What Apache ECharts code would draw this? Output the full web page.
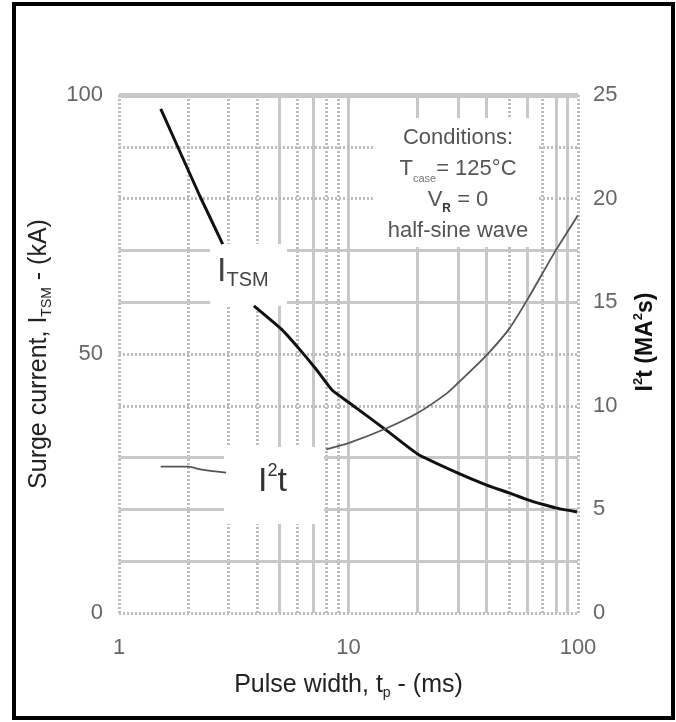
<!DOCTYPE html>
<html><head><meta charset="utf-8">
<script src="https://cdn.jsdelivr.net/npm/echarts/dist/echarts.min.js"></script>
<style>html,body{margin:0;padding:0;background:#fff}#c{width:676px;height:722px}</style>
</head><body><div id="c"></div>
<script>
// ---- data ----
const xTicks = [1, 10, 100];
const itsmSeg1 = [[1.52,97.3],[1.79,90.3],[2.25,80.5],[2.83,71.2]];
const itsmSeg2 = [[3.87,59.3],[5.1,54.8],[6.15,50.8],[7.27,46.9],[8.5,43.0],[10,40.7],[14.4,35.5],[20,30.7],[30,27.0],[40,24.7],[50,23.2],[60,21.9],[70,21.0],[80,20.3],[99,19.5]];
const i2tSeg1 = [[1.52,7.06],[2.0,7.06],[2.3,6.92],[2.93,6.77]];
const i2tSeg2 = [[8.0,7.9],[10,8.2],[14.4,8.88],[20,9.65],[26.8,10.6],[30,11.1],[40,12.45],[50,13.7],[60,15.1],[80,17.5],[100,19.2]];
const xGridSolid = [5,7,10,20,30,40,60,80,90];
const xGridDotted = [1,2,3,4,6,8,9,50,70,100];
const yGridSolid = [10,20,30,60,70];
const yGridDotted = [0,40,50,80,90];
const yGridTop = [100];

const FONT = 'Liberation Sans, Arial, Helvetica, sans-serif';
const solidStyle = {type:'solid', color:'#c8c8c8', width:3};
const dotStyle = {type:[2,2], color:'#bdbdbd', width:3};
const gridLines = [].concat(
  xGridSolid.map(v => ({xAxis:v, lineStyle:solidStyle})),
  xGridDotted.map(v => ({xAxis:v, lineStyle:dotStyle})),
  yGridSolid.map(v => ({yAxis:v, lineStyle:solidStyle})),
  yGridDotted.map(v => ({yAxis:v, lineStyle:dotStyle})),
  yGridTop.map(v => ({yAxis:v, lineStyle:{type:'solid', color:'#c8c8c8', width:5}}))
);

const chart = echarts.init(document.getElementById('c'), null, {renderer:'canvas'});
const lbl = {fontFamily:FONT, fontSize:22, color:'#666'};
chart.setOption({
  animation:false,
  backgroundColor:'#fff',
  grid:{left:119, right:98, top:95, bottom:109, containLabel:false},
  xAxis:{
    type:'log', logBase:10, min:xTicks[0], max:xTicks[xTicks.length-1],
    axisLine:{show:false}, axisTick:{show:false}, splitLine:{show:false}, minorSplitLine:{show:false},
    axisLabel:Object.assign({margin:24, formatter:v => xTicks.includes(v) ? String(v) : ''}, lbl),
    name:'Pulse width, t{sub|p} - (ms)', nameLocation:'middle', nameGap:57,
    nameTextStyle:{fontFamily:FONT, fontSize:25, color:'#222', lineHeight:30,
      rich:{sub:{fontFamily:FONT, fontSize:14, color:'#222', verticalAlign:'bottom', lineHeight:30}}}
  },
  yAxis:[{
    type:'value', min:0, max:100, interval:50, position:'left',
    axisLine:{show:false}, axisTick:{show:false}, splitLine:{show:false},
    axisLabel:Object.assign({margin:16}, lbl),
    name:'Surge current, I{sub|TSM} - (kA)', nameLocation:'middle', nameGap:65, nameRotate:90,
    nameTextStyle:{fontFamily:FONT, fontSize:25, color:'#222', lineHeight:30,
      rich:{sub:{fontFamily:FONT, fontSize:14, color:'#222', verticalAlign:'bottom', lineHeight:30}}}
  },{
    type:'value', min:0, max:25, interval:5, position:'right',
    axisLine:{show:false}, axisTick:{show:false}, splitLine:{show:false},
    axisLabel:Object.assign({margin:15}, lbl),
    name:'I{sup|2}t (MA{sup|2}s)', nameLocation:'middle', nameGap:54, nameRotate:90,
    nameTextStyle:{fontFamily:FONT, fontSize:23, fontWeight:'bold', color:'#111', lineHeight:28,
      padding:[0,0,0,24],
      rich:{sup:{fontFamily:FONT, fontSize:13, fontWeight:'bold', color:'#111', verticalAlign:'top', lineHeight:28}}}
  }],
  series:[
    {type:'line', z:1, data:itsmSeg2, showSymbol:false, silent:true, lineStyle:{opacity:0},
     markLine:{z:1, silent:true, symbol:['none','none'], label:{show:false}, animation:false, data:gridLines}},
    {type:'line', z:10, data:itsmSeg1, showSymbol:false, lineStyle:{color:'#111', width:3}},
    {type:'line', z:10, data:itsmSeg2, showSymbol:false, smooth:0.15, lineStyle:{color:'#111', width:3}},
    {type:'line', z:10, yAxisIndex:1, data:i2tSeg1, showSymbol:false, smooth:0.2, lineStyle:{color:'#555', width:1.8}},
    {type:'line', z:10, yAxisIndex:1, data:i2tSeg2, showSymbol:false, smooth:0.2, lineStyle:{color:'#555', width:1.8}}
  ],
  graphic:[
    {type:'rect', z:5, silent:true, shape:{x:210, y:244, width:77, height:62}, style:{fill:'#fff'}},
    {type:'rect', z:5, silent:true, shape:{x:224, y:447, width:100, height:77}, style:{fill:'#fff'}},
    {type:'rect', z:5, silent:true, shape:{x:375, y:118, width:162, height:129}, style:{fill:'#fff'}},
    {type:'text', z:20, silent:true, x:217, y:254, style:{
      text:'{m|I}{s|TSM}', rich:{
        m:{fontFamily:FONT, fontSize:34, fill:'#444', lineHeight:36, verticalAlign:'middle'},
        s:{fontFamily:FONT, fontSize:20, fill:'#444', lineHeight:36, verticalAlign:'bottom'}}}},
    {type:'text', z:20, silent:true, x:258, y:462, style:{
      text:'{m|I}{p|2}{m|t}', rich:{
        m:{fontFamily:FONT, fontSize:34, fill:'#333', lineHeight:40, verticalAlign:'middle'},
        p:{fontFamily:FONT, fontSize:18, fill:'#333', lineHeight:40, verticalAlign:'top'}}}},
    {type:'text', z:20, silent:true, x:458, y:122, style:{
      text:'{m|Conditions:}\n{m|T}{s|case}{m|= 125°C}\n{m|V}{b|R}{m| = 0}\n{m|half-sine wave}',
      align:'center', verticalAlign:'top', rich:{
        m:{fontFamily:FONT, fontSize:22, fill:'#555', lineHeight:31},
        s:{fontFamily:FONT, fontSize:11, fill:'#777', lineHeight:31, verticalAlign:'bottom'},
        b:{fontFamily:FONT, fontSize:12, fontWeight:'bold', fill:'#333', lineHeight:31, verticalAlign:'bottom'}}}},
    {type:'rect', z:30, silent:true, shape:{x:14, y:4, width:659, height:714}, style:{fill:'none', stroke:'#000', lineWidth:4}}
  ]
});
</script></body></html>
